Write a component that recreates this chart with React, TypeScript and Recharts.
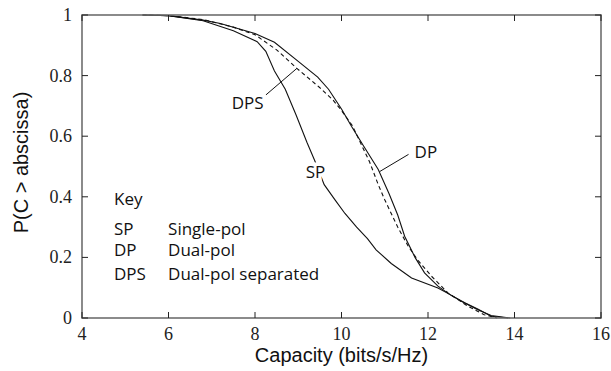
import React from "react";
import { LineChart, Line, XAxis, YAxis, ReferenceLine, ReferenceDot } from "recharts";

// axis ticks
const xTicks = [4, 6, 8, 10, 12, 14, 16];
const yTicks = [0, 0.2, 0.4, 0.6, 0.8, 1];

// SP - single-pol
const spCapacity = [5.4, 6.0, 6.8, 7.5, 8.05, 8.25, 8.45, 8.7, 8.95, 9.2, 9.38, 9.6, 9.85, 10.08, 10.35, 10.6, 10.8, 11.15, 11.62, 12.23, 12.5, 12.85, 13.15, 13.46, 13.85];
const spProb = [1.0, 0.998, 0.981, 0.948, 0.912, 0.88, 0.815, 0.755, 0.67, 0.58, 0.52, 0.44, 0.39, 0.345, 0.3, 0.262, 0.225, 0.18, 0.132, 0.099, 0.078, 0.05, 0.03, 0.006, 0];

// DP - dual-pol
const dpCapacity = [5.4, 6.0, 6.8, 7.2, 8.0, 8.45, 9.0, 9.45, 9.7, 10.0, 10.23, 10.5, 10.85, 11.1, 11.3, 11.46, 11.7, 11.92, 12.23, 12.5, 12.77, 13.15, 13.46, 13.9];
const dpProb = [1.0, 0.998, 0.983, 0.972, 0.939, 0.91, 0.847, 0.795, 0.755, 0.69, 0.633, 0.57, 0.49, 0.41, 0.34, 0.27, 0.2, 0.149, 0.105, 0.078, 0.055, 0.027, 0.008, 0];

// DPS - dual-pol separated
const dpsCapacity = [5.4, 6.0, 6.8, 7.5, 8.0, 8.5, 9.0, 9.5, 9.8, 10.0, 10.25, 10.45, 10.65, 10.85, 11.0, 11.3, 11.55, 11.77, 12.08, 12.46, 12.92, 13.3, 13.6];
const dpsProb = [1.0, 0.998, 0.985, 0.96, 0.935, 0.885, 0.82, 0.76, 0.72, 0.685, 0.635, 0.575, 0.515, 0.44, 0.39, 0.3, 0.235, 0.19, 0.138, 0.083, 0.039, 0.011, 0];

// curve labels and their leader lines (data coords)
const curveLabels = [
  { text: "DPS", c: 7.83, p: 0.708 },
  { text: "DP", c: 11.95, p: 0.548 },
  { text: "SP", c: 9.4, p: 0.483 },
];
const leaders = [
  [{ c: 8.25, p: 0.736 }, { c: 8.97, p: 0.824 }],
  [{ c: 11.55, p: 0.54 }, { c: 10.88, p: 0.483 }],
];

// key block
const keyCodes = ["SP", "DP", "DPS"];
const keyNames = ["Single-pol", "Dual-pol", "Dual-pol separated"];
const keyRows = [0.295, 0.224, 0.146];

const toPoints = (xs: number[], ys: number[]) => xs.map((c, i) => ({ c, p: ys[i] }));

const sp = toPoints(spCapacity, spProb);
const dp = toPoints(dpCapacity, dpProb);
const dps = toPoints(dpsCapacity, dpsProb);

const W = 611;
const H = 371;
const xMin = xTicks[0];
const xMax = xTicks[xTicks.length - 1];
const yMin = yTicks[0];
const yMax = yTicks[yTicks.length - 1];

// plot box; the chart margins and axis sizes below are derived from it
const plot = { left: 82, top: 15, right: 601, bottom: 318 };
const bottomPad = 5;

const frame = "#6e6e6e";
const tickFont = "Liberation Serif";
const sansFont = "Liberation Sans";
const noteFont = "Open Sans";

// frame scales (same box as the chart's plot area)
const fx = (v: number) => plot.left + ((v - xMin) / (xMax - xMin)) * (plot.right - plot.left);
const fy = (v: number) => plot.bottom - ((v - yMin) / (yMax - yMin)) * (plot.bottom - plot.top);

const note = (key: string, c: number, p: number, text: string, anchor: string, mask: boolean) => (
  <ReferenceDot
    key={key}
    x={c}
    y={p}
    r={1}
    fill="none"
    stroke="none"
    label={{
      content: (props: any) => {
        const vb = props.viewBox;
        return (
          <text
            x={vb.x + vb.width / 2}
            y={vb.y + vb.height / 2 + 6}
            textAnchor={anchor}
            fontFamily={noteFont}
            fontSize={17}
            fill="#111"
            stroke={mask ? "#fff" : "none"}
            strokeWidth={mask ? 7 : 0}
            paintOrder="stroke"
          >
            {text}
          </text>
        );
      },
    }}
  />
);

// box frame with inward ticks on all four sides, plus tick labels
const Frame = () => (
  <svg width={W} height={H} style={{ position: "absolute", left: 0, top: 0, pointerEvents: "none" }}>
    <rect
      x={plot.left}
      y={plot.top}
      width={plot.right - plot.left}
      height={plot.bottom - plot.top}
      fill="none"
      stroke={frame}
      strokeWidth={1.6}
    />
    {xTicks.map((t) => (
      <g key={`x-${t}`}>
        <line x1={fx(t)} y1={plot.bottom} x2={fx(t)} y2={plot.bottom - 6} stroke="#222" />
        <line x1={fx(t)} y1={plot.top} x2={fx(t)} y2={plot.top + 6} stroke="#222" />
        <text x={fx(t)} y={plot.bottom + 22} textAnchor="middle" fontFamily={tickFont} fontSize={18} fill="#222">
          {t}
        </text>
      </g>
    ))}
    {yTicks.map((t) => (
      <g key={`y-${t}`}>
        <line x1={plot.left} y1={fy(t)} x2={plot.left + 6} y2={fy(t)} stroke="#222" />
        <line x1={plot.right} y1={fy(t)} x2={plot.right - 6} y2={fy(t)} stroke="#222" />
        <text x={plot.left - 10} y={fy(t) + 6} textAnchor="end" fontFamily={tickFont} fontSize={18} fill="#222">
          {t}
        </text>
      </g>
    ))}
  </svg>
);

const App: React.FC = () => {
  return (
    <div style={{ position: "relative", width: W, height: H }}>
      <style>{`body{margin:0}`}</style>
      <LineChart
        width={W}
        height={H}
        margin={{ top: plot.top, right: W - plot.right, bottom: bottomPad, left: 0 }}
      >
        <XAxis
          dataKey="c"
          type="number"
          domain={[xMin, xMax]}
          ticks={xTicks}
          height={H - bottomPad - plot.bottom}
          tick={false}
          tickLine={false}
          axisLine={false}
          label={{
            value: "Capacity (bits/s/Hz)",
            position: "insideBottom",
            offset: 4,
            fontFamily: sansFont,
            fontSize: 20,
            fill: "#111",
          }}
        />
        <YAxis
          type="number"
          domain={[yMin, yMax]}
          ticks={yTicks}
          width={plot.left}
          tick={false}
          tickLine={false}
          axisLine={false}
          label={{
            content: (props: any) => {
              const vb = props.viewBox;
              const cx = vb.x + 21;
              const cy = vb.y + vb.height / 2 - 4;
              return (
                <text
                  x={cx}
                  y={cy}
                  transform={`rotate(-90 ${cx} ${cy})`}
                  textAnchor="middle"
                  dominantBaseline="central"
                  fontFamily={sansFont}
                  fontSize={20}
                  fill="#111"
                >
                  P(C &gt; abscissa)
                </text>
              );
            },
          }}
        />
        <Line data={sp} dataKey="p" type="linear" stroke="#111" strokeWidth={1.1} dot={false} isAnimationActive={false} />
        <Line data={dp} dataKey="p" type="linear" stroke="#111" strokeWidth={1.1} dot={false} isAnimationActive={false} />
        <Line
          data={dps}
          dataKey="p"
          type="linear"
          stroke="#111"
          strokeWidth={1.1}
          strokeDasharray="4 3"
          dot={false}
          isAnimationActive={false}
        />
        {leaders.map((seg, i) => (
          <ReferenceLine
            key={`leader-${i}`}
            segment={[{ x: seg[0].c, y: seg[0].p }, { x: seg[1].c, y: seg[1].p }]}
            stroke="#111"
            strokeWidth={1}
          />
        ))}
        {curveLabels.map((l) => note(`cl-${l.text}`, l.c, l.p, l.text, "middle", true))}
        {note("key-title", 4.74, 0.394, "Key", "start", false)}
        {keyCodes.map((k, i) => note(`kc-${k}`, 4.74, keyRows[i], k, "start", false))}
        {keyNames.map((k, i) => note(`kn-${k}`, 5.99, keyRows[i], k, "start", false))}
      </LineChart>
      <Frame />
    </div>
  );
};

export default App;
